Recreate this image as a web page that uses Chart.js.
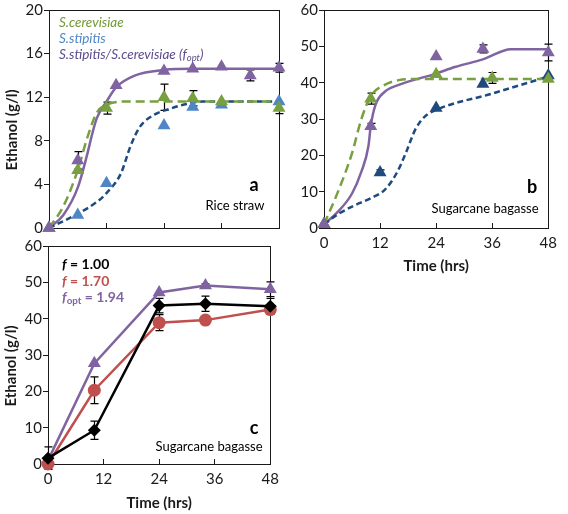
<!DOCTYPE html>
<html>
<head>
<meta charset="utf-8">
<script src="https://cdn.jsdelivr.net/npm/chart.js@4/dist/chart.umd.min.js"></script>
<style>
  body { margin: 0; background: #fff; font-family: Lato, sans-serif; }
  #wrap { position: relative; width: 568px; height: 514px; overflow: hidden; }
  .box { position: absolute; }
  .txt { position: absolute; white-space: nowrap; }
  .mid { transform: translate(-50%, -50%); line-height: 1; }
  sub { font-size: 70%; vertical-align: -0.25em; line-height: 0; }
</style>
</head>
<body>
<div id="wrap">
  <div class="box" style="left:0;top:0;width:290px;height:246px"><canvas id="chartA"></canvas></div>
  <div class="box" style="left:290px;top:0;width:278px;height:275px"><canvas id="chartB"></canvas></div>
  <div class="box" style="left:0;top:236px;width:290px;height:276px"><canvas id="chartC"></canvas></div>

  <div class="txt" style="left:59px;top:14px;font-size:13.5px;font-style:italic;line-height:16px">
    <div style="color:#6f9a35">S.cerevisiae</div>
    <div style="color:#4f86c6">S.stipitis</div>
    <div style="color:#5c4a8c">S.stipitis/S.cerevisiae (f<sub>opt</sub>)</div>
  </div>
  <div class="txt mid" style="left:254px;top:184px;font-size:18px;font-weight:bold">a</div>
  <div class="txt mid" style="left:235px;top:205px;font-size:13px">Rice straw</div>

  <div class="txt mid" style="left:532px;top:186px;font-size:18px;font-weight:bold">b</div>
  <div class="txt mid" style="left:485px;top:208px;font-size:13px">Sugarcane bagasse</div>

  <div class="txt" style="left:62px;top:256px;font-size:14px;font-weight:bold;line-height:16.5px">
    <div style="color:#000"><i>f</i> = 1.00</div>
    <div style="color:#c0504d"><i>f</i> = 1.70</div>
    <div style="color:#8064a2"><i>f</i><sub>opt</sub> = 1.94</div>
  </div>
  <div class="txt mid" style="left:254px;top:427px;font-size:18px;font-weight:bold">c</div>
  <div class="txt mid" style="left:209px;top:446px;font-size:13px">Sugarcane bagasse</div>
</div>

<script>
// ---- panel a: rice straw ----
const timeA_cer = [0, 6, 12, 24, 30, 36, 48];
const ethA_cer = [0, 5.3, 11.0, 12.0, 11.9, 11.6, 11.0];
const errA_cer = [0, 0, 0.55, 1.2, 0.7, 0, 0.5];
const timeA_sti = [0, 6, 12, 24, 30, 36, 48];
const ethA_sti = [0, 1.2, 4.1, 9.4, 11.1, 11.3, 11.6];
const timeA_mix = [0, 6, 14, 24, 30, 36, 42, 48];
const ethA_mix = [0, 6.2, 13.1, 14.4, 14.6, 14.8, 14.0, 14.7];
const errA_mix = [0, 0.8, 0, 0, 0, 0, 0.5, 0.4];

// fitted curves
const fitA_cer_t = [0, 3, 6, 8, 10, 12, 16, 48];
const fitA_cer_y = [0, 2.0, 5.3, 8.3, 10.6, 11.3, 11.6, 11.6];
const fitA_sti_t = [0, 6, 10, 12, 15, 17, 19, 22, 25, 28, 32, 48];
const fitA_sti_y = [0, 1.3, 2.4, 3.2, 5.0, 7.5, 9.3, 10.4, 10.9, 11.3, 11.6, 11.6];
const fitA_mix_t = [0, 3, 6, 8, 9, 10, 12, 14, 18, 24, 30, 48];
const fitA_mix_y = [0, 1.2, 3.7, 6.8, 8.6, 10.1, 11.6, 12.9, 14.0, 14.5, 14.6, 14.6];

// ---- panel b: sugarcane bagasse ----
const timeB_cer = [0, 10, 24, 36, 48];
const ethB_cer = [1, 35.6, 42.3, 41.3, 41.0];
const errB_cer = [0, 1.5, 0, 1.5, 0];
const timeB_sti = [0, 12, 24, 34, 48];
const ethB_sti = [1, 15.3, 33.0, 39.6, 42.0];
const errB_sti = [0, 0.7, 0, 0, 0];
const timeB_mix = [0, 10, 24, 34, 48];
const ethB_mix = [1, 28.0, 47.2, 49.3, 48.3];
const errB_mix = [0, 0.8, 0, 1.1, 2.3];

const fitB_cer_t = [0, 3, 6, 8, 10, 13, 16, 20, 48];
const fitB_cer_y = [1, 10, 20.6, 30.0, 36.3, 39.4, 40.7, 41.0, 41.0];
const fitB_sti_t = [0, 3, 6, 10, 13, 15.5, 17.5, 19.5, 21.5, 24, 36, 48];
const fitB_sti_y = [1, 3.8, 5.9, 8.2, 10.5, 15.0, 20.6, 27.0, 30.6, 32.5, 37.0, 41.7];
const fitB_mix_t = [0, 3, 6, 8, 9.5, 10, 11, 13, 16, 24, 28, 34, 40, 48];
const fitB_mix_y = [1, 4.5, 9.5, 15.5, 22.5, 28.0, 33.8, 37.5, 39.4, 42.5, 44.3, 46.4, 49.2, 49.2];

// ---- panel c: effect of f ----
const timeC = [0, 10, 24, 34, 48];
const ethC_f100 = [1.6, 9.3, 43.6, 44.1, 43.4];
const errC_f100 = [3.1, 2.5, 2.0, 2.1, 2.2];
const ethC_f170 = [0, 20.3, 38.9, 39.6, 42.5];
const errC_f170 = [0, 3.7, 2.2, 0, 0];
const ethC_fopt = [1, 27.7, 47.2, 49.1, 48.1];
const errC_fopt = [0, 0, 0, 0.5, 2.0];

const xTicks = [0, 12, 24, 36, 48];

const GREEN = '#78a040';
const LBLUE = '#4f86c6';
const NAVY = '#1f4a7f';
const PURPLE = '#8064a2';
const RED = '#c0504d';

Chart.defaults.font.family = 'Lato, sans-serif';
Chart.defaults.color = '#1a1a1a';

const pts = (xs, ys) => xs.map((x, i) => ({x: x, y: ys[i]}));

function markers(label, xs, ys, color, style, radius, errs) {
    return {
        label: label,
        data: pts(xs, ys),
        showLine: false,
        pointStyle: style,
        pointRadius: radius,
        pointHoverRadius: radius,
        backgroundColor: color,
        borderColor: color,
        borderWidth: 0,
        errors: errs,
        clip: false,
        order: 0
    };
}

function fitLine(label, xs, ys, color, dash) {
    return {
        label: label,
        data: pts(xs, ys),
        showLine: true,
        pointRadius: 0,
        pointHoverRadius: 0,
        borderColor: color,
        borderWidth: 2.5,
        borderDash: dash,
        cubicInterpolationMode: 'monotone',
        fill: false,
        clip: false,
        order: 1
    };
}

function joinLine(label, xs, ys, color, style, radius, errs) {
    const ds = markers(label, xs, ys, color, style, radius, errs);
    ds.showLine = true;
    ds.borderWidth = 2.5;
    ds.pointBorderWidth = 0;
    return ds;
}

const framePlugin = {
    id: 'frame',
    beforeDatasetsDraw(chart) {
        const a = chart.chartArea;
        const ctx = chart.ctx;
        ctx.save();
        ctx.strokeStyle = '#1a1a1a';
        ctx.lineWidth = 1;
        ctx.strokeRect(Math.round(a.left) + 0.5, Math.round(a.top) + 0.5,
            Math.round(a.right - a.left), Math.round(a.bottom - a.top));
        ctx.restore();
    }
};

const errorBars = {
    id: 'errorBars',
    beforeDatasetsDraw(chart) {
        const ctx = chart.ctx;
        const xs = chart.scales.x, ys = chart.scales.y;
        ctx.save();
        ctx.strokeStyle = '#000';
        ctx.lineWidth = 1.2;
        chart.data.datasets.forEach((ds) => {
            if (!ds.errors) return;
            ds.data.forEach((p, i) => {
                const e = ds.errors[i];
                if (!e) return;
                const px = Math.round(xs.getPixelForValue(p.x)) + 0.5;
                const top = ys.getPixelForValue(p.y + e);
                const bot = ys.getPixelForValue(p.y - e);
                ctx.beginPath();
                ctx.moveTo(px, top); ctx.lineTo(px, bot);
                ctx.moveTo(px - 4, top); ctx.lineTo(px + 4, top);
                ctx.moveTo(px - 4, bot); ctx.lineTo(px + 4, bot);
                ctx.stroke();
            });
        });
        ctx.restore();
    }
};

function makeOptions(opts) {
    return {
        responsive: true,
        maintainAspectRatio: false,
        animation: false,
        events: [],
        layout: { padding: opts.padding },
        plugins: { legend: { display: false }, tooltip: { enabled: false } },
        scales: {
            x: {
                type: 'linear',
                min: 0,
                max: 48,
                afterBuildTicks: (s) => { s.ticks = xTicks.map(v => ({value: v})); },
                afterFit: (s) => { s.height = opts.xHeight; },
                border: { display: true, color: '#1a1a1a', width: 1 },
                grid: { display: true, drawOnChartArea: false, drawTicks: true, tickLength: -5, color: '#1a1a1a' },
                ticks: {
                    padding: 11,
                    maxRotation: 0,
                    font: { size: 15 },
                    callback: (v) => opts.xLabels ? String(v) : ''
                },
                title: {
                    display: !!opts.xTitle,
                    text: opts.xTitle || '',
                    font: { size: 15, weight: 'bold' },
                    color: '#1a1a1a',
                    padding: { top: 0, bottom: 0 }
                }
            },
            y: {
                min: 0,
                max: opts.yMax,
                afterBuildTicks: (s) => { s.ticks = opts.yTicks.map(v => ({value: v})); },
                afterFit: (s) => { s.width = opts.yWidth; },
                border: { display: true, color: '#1a1a1a', width: 1 },
                grid: { display: true, drawOnChartArea: false, drawTicks: true, tickLength: 5, color: '#1a1a1a' },
                ticks: { padding: 1, font: { size: 15 } },
                title: {
                    display: !!opts.yTitle,
                    text: opts.yTitle || '',
                    font: { size: 15, weight: 'bold' },
                    color: '#1a1a1a',
                    padding: { top: opts.yTitlePad || 0, bottom: 0 }
                }
            }
        }
    };
}

new Chart(document.getElementById('chartA'), {
    type: 'scatter',
    data: {
        datasets: [
            markers('S.stipitis/S.cerevisiae (fopt)', timeA_mix, ethA_mix, PURPLE, 'triangle', 7.5, errA_mix),
            markers('S.cerevisiae', timeA_cer, ethA_cer, GREEN, 'triangle', 7.5, errA_cer),
            markers('S.stipitis', timeA_sti, ethA_sti, LBLUE, 'triangle', 7.5, null),
            fitLine('fit S.cerevisiae', fitA_cer_t, fitA_cer_y, GREEN, [9, 5]),
            fitLine('fit S.stipitis', fitA_sti_t, fitA_sti_y, NAVY, [6, 3.5]),
            fitLine('fit mix', fitA_mix_t, fitA_mix_y, PURPLE, [])
        ]
    },
    options: makeOptions({
        padding: { left: 0, top: 10, right: 7, bottom: 0 },
        xHeight: 18, yWidth: 49, yMax: 20, yTicks: [0, 4, 8, 12, 16, 20],
        xLabels: false, yTitle: 'Ethanol (g/l)\u00a0\u00a0\u00a0\u00a0\u00a0\u00a0', yTitlePad: 3
    }),
    plugins: [framePlugin, errorBars]
});

new Chart(document.getElementById('chartB'), {
    type: 'scatter',
    data: {
        datasets: [
            markers('S.stipitis/S.cerevisiae (fopt)', timeB_mix, ethB_mix, PURPLE, 'triangle', 7.5, errB_mix),
            markers('S.cerevisiae', timeB_cer, ethB_cer, GREEN, 'triangle', 7.5, errB_cer),
            markers('S.stipitis', timeB_sti, ethB_sti, NAVY, 'triangle', 7.5, errB_sti),
            fitLine('fit S.cerevisiae', fitB_cer_t, fitB_cer_y, GREEN, [9, 5]),
            fitLine('fit S.stipitis', fitB_sti_t, fitB_sti_y, NAVY, [6, 3.5]),
            fitLine('fit mix', fitB_mix_t, fitB_mix_y, PURPLE, [])
        ]
    },
    options: makeOptions({
        padding: { left: 0, top: 10, right: 10, bottom: 0 },
        xHeight: 47, yWidth: 34, yMax: 60, yTicks: [0, 10, 20, 30, 40, 50, 60],
        xLabels: true, xTitle: 'Time (hrs)'
    }),
    plugins: [framePlugin, errorBars]
});

new Chart(document.getElementById('chartC'), {
    type: 'scatter',
    data: {
        datasets: [
            joinLine('f = 1.00', timeC, ethC_f100, '#000', 'rectRot', 6.5, errC_f100),
            joinLine('f = 1.70', timeC, ethC_f170, RED, 'circle', 6.5, errC_f170),
            joinLine('fopt = 1.94', timeC, ethC_fopt, PURPLE, 'triangle', 7.5, errC_fopt)
        ]
    },
    options: makeOptions({
        padding: { left: 0, top: 10, right: 7, bottom: 0 },
        xHeight: 48, yWidth: 48, yMax: 60, yTicks: [0, 10, 20, 30, 40, 50, 60],
        xLabels: true, xTitle: 'Time (hrs)',
        yTitle: 'Ethanol (g/l)\u00a0\u00a0\u00a0\u00a0\u00a0\u00a0', yTitlePad: 2
    }),
    plugins: [framePlugin, errorBars]
});
</script>
</body>
</html>
